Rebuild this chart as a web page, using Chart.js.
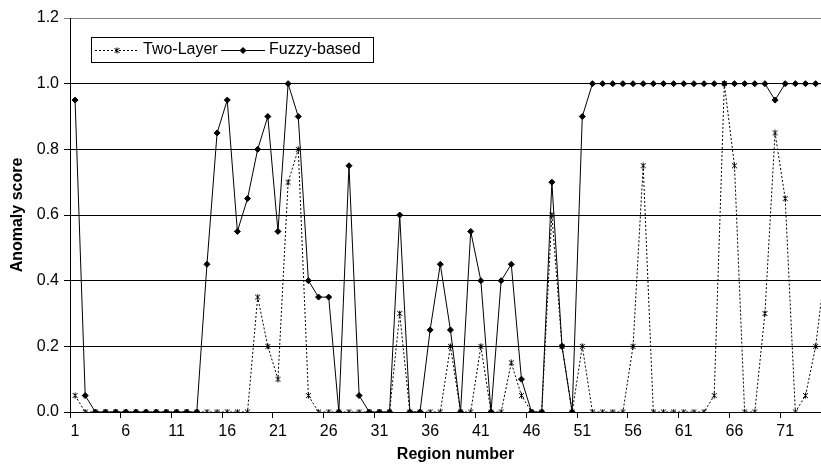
<!DOCTYPE html>
<html>
<head>
<meta charset="utf-8">
<script src="https://cdn.jsdelivr.net/npm/chart.js@4/dist/chart.umd.min.js"></script>
<style>
html,body{margin:0;padding:0;overflow:hidden;background:#fff;width:821px;height:466px}
#wrap{width:860px;height:466px;position:relative}
canvas{display:block}
</style>
</head>
<body>
<div id="wrap"><canvas id="c" width="860" height="466" style="width:860px;height:466px"></canvas></div>
<script>
// ---- data ----
const regions = ['1','2','3','4','5','6','7','8','9','10','11','12','13','14','15','16','17','18','19','20',
  '21','22','23','24','25','26','27','28','29','30','31','32','33','34','35','36','37','38','39','40',
  '41','42','43','44','45','46','47','48','49','50','51','52','53','54','55','56','57','58','59','60',
  '61','62','63','64','65','66','67','68','69','70','71','72','73','74','75','76'];

const twoLayer = [0.05,0,0,0,0,0,0,0,0,0,
  0,0,0,0,0,0,0,0,0.35,0.2,
  0.1,0.7,0.8,0.05,0,0,0,0,0,0,
  0,0,0.3,0,0,0,0,0.2,0,0,
  0.2,0,0,0.15,0.05,0,0,0.6,0.2,0,
  0.2,0,0,0,0,0.2,0.75,0,0,0,
  0,0,0,0.05,1.0,0.75,0,0,0.3,0.85,
  0.65,0,0.05,0.2,0.45];

const fuzzyBased = [0.95,0.05,0,0,0,0,0,0,0,0,
  0,0,0,0.45,0.85,0.95,0.55,0.65,0.8,0.9,
  0.55,1.0,0.9,0.4,0.35,0.35,0,0.75,0.05,0,
  0,0,0.6,0,0,0.25,0.45,0.25,0,0.55,
  0.4,0,0.4,0.45,0.1,0,0,0.7,0.2,0,
  0.9,1.0,1.0,1.0,1.0,1.0,1.0,1.0,1.0,1.0,
  1.0,1.0,1.0,1.0,1.0,1.0,1.0,1.0,1.0,0.95,
  1.0,1.0,1.0,1.0,1.0];

const seriesNames = ['Two-Layer','Fuzzy-based'];
const yMin = 0, yMax = 1.2, yStep = 0.2;
const labelEvery = 5;

// ---- styles ----
const FONT = '"Liberation Sans", Arial, sans-serif';

const starImg = (() => {
  const c = document.createElement('canvas');
  c.width = 7; c.height = 7;
  const g = c.getContext('2d');
  g.strokeStyle = '#000'; g.lineWidth = 1;
  g.beginPath();
  g.moveTo(1, 1); g.lineTo(6, 6);
  g.moveTo(6, 1); g.lineTo(1, 6);
  g.moveTo(3.5, 0.5); g.lineTo(3.5, 6.5);
  g.stroke();
  return c;
})();

const boxLegend = {
  id: 'boxLegend',
  afterDraw(chart) {
    const ctx = chart.ctx;
    const ds = chart.data.datasets;
    ctx.save();
    ctx.fillStyle = '#fff';
    ctx.fillRect(91, 37, 282, 25);
    ctx.strokeStyle = '#000';
    ctx.lineWidth = 1;
    ctx.strokeRect(91.5, 37.5, 282, 25);
    const y = 50.5;
    // Two-Layer sample
    ctx.setLineDash([2, 2]);
    ctx.beginPath(); ctx.moveTo(95, y); ctx.lineTo(139, y); ctx.stroke();
    ctx.setLineDash([]);
    ctx.drawImage(starImg, 117 - 3.5, y - 3.5);
    // Fuzzy sample
    ctx.beginPath(); ctx.moveTo(221, y); ctx.lineTo(265, y); ctx.stroke();
    Chart.helpers.drawPoint(ctx, {pointStyle: 'rectRot', radius: 3, borderWidth: 1}, 243, y);
    ctx.fillStyle = '#000';
    ctx.fill();
    ctx.font = '16px ' + FONT;
    ctx.fillStyle = '#000';
    ctx.textBaseline = 'middle';
    ctx.textAlign = 'left';
    ctx.fillText(ds[0].label, 143, 50);
    ctx.fillText(ds[1].label, 269, 50);
    ctx.restore();
  }
};

new Chart(document.getElementById('c'), {
  type: 'line',
  data: {
    labels: regions,
    datasets: [
      {
        label: seriesNames[0],
        data: twoLayer,
        borderColor: '#000',
        borderWidth: 1,
        borderDash: [2, 2],
        pointStyle: starImg,
        pointRadius: 3,
        pointBackgroundColor: '#000',
        pointBorderColor: '#000',
        tension: 0,
        order: 1
      },
      {
        label: seriesNames[1],
        data: fuzzyBased,
        borderColor: '#000',
        borderWidth: 1,
        pointStyle: 'rectRot',
        pointRadius: 3,
        pointBorderWidth: 1,
        pointBackgroundColor: '#000',
        pointBorderColor: '#000',
        tension: 0,
        order: 0
      }
    ]
  },
  options: {
    responsive: false,
    animation: false,
    devicePixelRatio: 1,
    layout: { padding: { top: 18, right: 19, left: 0, bottom: 0 } },
    plugins: { legend: { display: false }, tooltip: { enabled: false } },
    scales: {
      x: {
        type: 'category',
        offset: true,
        grid: {
          display: true, offset: true, drawOnChartArea: false, drawTicks: true, tickLength: 6,
          lineWidth: 1,
          color: c => (c.index % labelEvery === 0 ? '#000' : 'rgba(0,0,0,0)')
        },
        border: { display: true, color: '#000', width: 1 },
        ticks: {
          autoSkip: false, maxRotation: 0, minRotation: 0, padding: 4, color: '#000',
          font: { family: FONT, size: 16 },
          callback: (v, i) => (i % labelEvery === 0 ? regions[i] : '')
        },
        title: {
          display: true, text: 'Region number', color: '#000',
          font: { family: FONT, size: 16, weight: 'bold' },
          padding: { top: 0, bottom: 2 }
        },
        afterFit: s => { s.height = 54; }
      },
      y: {
        min: yMin, max: yMax,
        grid: {
          tickLength: 6, lineWidth: 1,
          color: c => (c.tick && c.tick.value >= yMax - 1e-6 ? '#808080' : '#000')
        },
        border: { display: true, color: '#000', width: 1 },
        ticks: {
          stepSize: yStep, padding: 5, color: '#000',
          font: { family: FONT, size: 16 },
          callback: v => Number(v).toFixed(1)
        },
        title: {
          display: true, text: 'Anomaly score', color: '#000',
          font: { family: FONT, size: 16, weight: 'bold' },
          padding: { top: 8, bottom: 0 }
        },
        afterFit: s => { s.width = 70; }
      }
    }
  },
  plugins: [boxLegend]
});
</script>
</body>
</html>
